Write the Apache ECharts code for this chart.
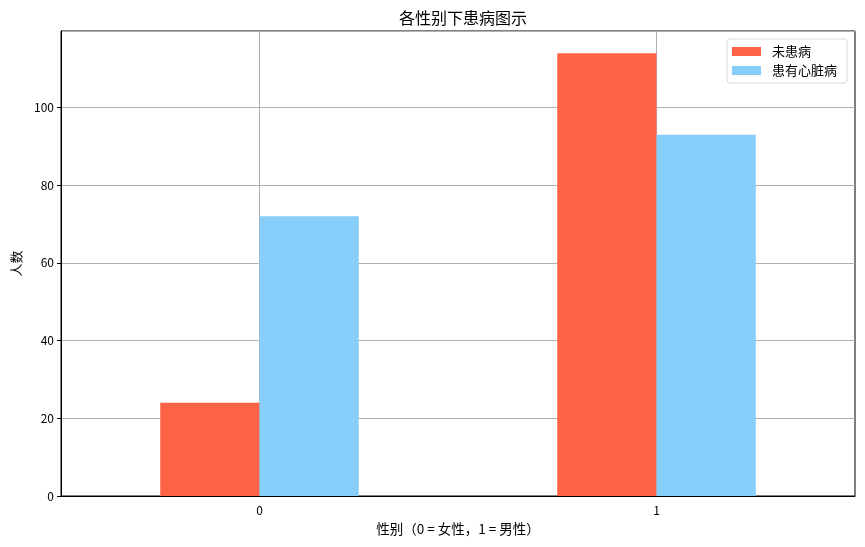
<!DOCTYPE html>
<html>
<head>
<meta charset="utf-8">
<script src="https://cdn.jsdelivr.net/npm/echarts@6/dist/echarts.min.js"></script>
<style>html,body{margin:0;padding:0;background:#fff}#c{width:865px;height:547px}</style>
</head>
<body>
<div id="c"></div>
<script>
const categories = ['0', '1'];
const seriesNames = ['未患病', '患有心脏病'];
const noDisease = [24, 114];
const hasDisease = [72, 93];
const colors = ['#FF6347', '#87CEFA'];
const titleText = '各性别下患病图示';
const xName = '性别（0 = 女性，1 = 男性）';
const yName = '人数';

const font = '"Noto Sans CJK SC", "DejaVu Sans", sans-serif';
const chart = echarts.init(document.getElementById('c'), null, {renderer: 'canvas'});
chart.setOption({
  animation: false,
  textStyle: {fontFamily: font},
  title: {
    text: titleText, left: 458, textAlign: 'center', top: 5,
    textStyle: {fontSize: 16, fontWeight: 'normal', color: '#000', fontFamily: font}
  },
  legend: {
    orient: 'vertical', left: 727, top: 39, icon: 'rect',
    itemWidth: 29, itemHeight: 9, itemGap: 6,
    padding: [6, 10, 6, 5],
    borderColor: '#d9d9d9', borderWidth: 1, borderRadius: 3,
    textStyle: {fontSize: 13, color: '#000', fontFamily: font, padding: [0, 0, 0, 6]},
    data: seriesNames
  },
  grid: {left: 61, right: 10, top: 31, bottom: 51, show: true, borderColor: '#000', borderWidth: 1, backgroundColor: 'transparent'},
  xAxis: [{
    type: 'category', data: categories, boundaryGap: true,
    name: xName, nameLocation: 'middle', nameGap: 26,
    nameTextStyle: {fontSize: 13.5, color: '#000', fontFamily: font},
    axisLine: {lineStyle: {color: '#000', width: 1}},
    axisTick: {alignWithLabel: true, length: 4, lineStyle: {color: '#000'}},
    axisLabel: {fontSize: 12, color: '#000', margin: 8},
    splitLine: {show: false}
  }, {
    type: 'category', data: ['a', 'b', 'c', 'd', 'e'], boundaryGap: false, position: 'bottom',
    axisLine: {show: false}, axisTick: {show: false}, axisLabel: {show: false},
    splitLine: {show: true, interval: function (i) { return i === 1 || i === 3; }, lineStyle: {color: '#b0b0b0', width: 1}}
  }],
  yAxis: {
    type: 'value', min: 0, max: 119.7, interval: 20,
    name: yName, nameLocation: 'middle', nameGap: 38,
    nameTextStyle: {fontSize: 13, color: '#000', fontFamily: font},
    axisLine: {show: true, lineStyle: {color: '#000', width: 1}},
    axisTick: {show: true, length: 4, lineStyle: {color: '#000'}},
    axisLabel: {fontSize: 12, color: '#000', margin: 7, showMaxLabel: false},
    splitLine: {show: true, lineStyle: {color: '#b0b0b0', width: 1}}
  },
  series: [
    {name: seriesNames[0], type: 'bar', data: noDisease, itemStyle: {color: colors[0]}, barGap: '0%', barCategoryGap: '50%'},
    {name: seriesNames[1], type: 'bar', data: hasDisease, itemStyle: {color: colors[1]}, barGap: '0%', barCategoryGap: '50%'}
  ]
});
</script>
</body>
</html>
